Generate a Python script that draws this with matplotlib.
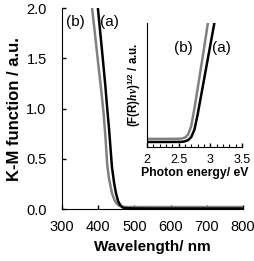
import matplotlib
matplotlib.use("Agg")
import matplotlib.pyplot as plt
from matplotlib.ticker import MultipleLocator

plt.rcParams['font.family'] = ['Liberation Sans', 'DejaVu Sans']
plt.rcParams['mathtext.fontset'] = 'custom'
plt.rcParams['mathtext.it'] = 'Liberation Serif:italic:bold'
plt.rcParams['mathtext.rm'] = 'Liberation Sans:bold'

# Main panel data (K-M function vs wavelength)
wl_b = [370, 380, 390, 400, 410, 415, 420, 425, 430, 438, 445, 450, 455, 460, 470, 480, 500, 550, 600, 700, 800]
km_b = [2.45, 2.1, 1.78, 1.45, 1.13, 0.95, 0.72, 0.44, 0.30, 0.16, 0.09, 0.06, 0.04, 0.03, 0.022, 0.02, 0.02, 0.02, 0.02, 0.02, 0.02]
wl_a = [385, 390, 400, 410, 420, 424, 430, 438, 444, 449, 455, 460, 466, 470, 480, 500, 550, 600, 700, 800]
km_a = [2.6, 2.38, 1.97, 1.6, 1.22, 1.04, 0.8, 0.42, 0.26, 0.16, 0.08, 0.045, 0.02, 0.012, 0.008, 0.006, 0.005, 0.005, 0.005, 0.005]

# Inset data (Tauc plot)
en_b = [2.0, 2.3, 2.5, 2.55, 2.6, 2.65, 2.7, 2.75, 2.8, 2.85, 2.9, 2.95, 3.0]
tauc_b = [0.065, 0.065, 0.066, 0.068, 0.075, 0.10, 0.17, 0.31, 0.47, 0.63, 0.79, 0.96, 1.12]
en_a = [2.0, 2.3, 2.55, 2.6, 2.65, 2.7, 2.75, 2.8, 2.85, 2.9, 2.95, 3.0, 3.05, 3.1]
tauc_a = [0.04, 0.04, 0.041, 0.045, 0.055, 0.08, 0.14, 0.26, 0.40, 0.54, 0.68, 0.82, 0.96, 1.1]

x_ticks = [300, 400, 500, 600, 700, 800]
y_ticks = [0.0, 0.5, 1.0, 1.5, 2.0]
inset_ticks = [2, 2.5, 3, 3.5]
inset_labels = ['2', '2.5', '3', '3.5']

fig = plt.figure(figsize=(2.55, 2.61), dpi=100)
ax = fig.add_axes([0.243, 0.199, 0.71, 0.770])
ax.plot(wl_b, km_b, color='#808080', lw=1.8, solid_capstyle='butt')
ax.plot(wl_a, km_a, color='black', lw=1.8, solid_capstyle='butt')
ax.set_xlim(300, 800)
ax.set_ylim(0, 2.0)
ax.set_xticks(x_ticks)
ax.set_yticks(y_ticks)
ax.set_yticklabels([f'{v:.1f}' for v in y_ticks])
ax.spines['top'].set_visible(False)
ax.spines['right'].set_visible(False)
ax.tick_params(direction='in', length=3, width=1, labelsize=10.5)
ax.tick_params(axis='x', pad=8)
ax.tick_params(axis='y', pad=11)
ax.set_xlabel('Wavelength/ nm', fontsize=11, fontweight='bold', labelpad=4)
ax.set_ylabel('K-M function / a.u.', fontsize=12, fontweight='bold', labelpad=3)
ax.text(336, 1.86, '(b)', fontsize=11, ha='center', va='center')
ax.text(431, 1.86, '(a)', fontsize=11, ha='center', va='center')

ins = fig.add_axes([0.576, 0.437, 0.373, 0.475])
ins.plot(en_b, tauc_b, color='#808080', lw=1.8)
ins.plot(en_a, tauc_a, color='black', lw=1.8)
ins.set_xlim(2, 3.5)
ins.set_ylim(0, 1.0)
ins.set_xticks(inset_ticks)
ins.set_xticklabels(inset_labels)
ins.xaxis.set_minor_locator(MultipleLocator(0.1))
ins.set_yticks([])
ins.patch.set_alpha(0)
ins.spines['top'].set_visible(False)
ins.spines['right'].set_visible(False)
ins.tick_params(axis='x', which='major', direction='in', length=3, width=1, labelsize=9, pad=5)
ins.tick_params(axis='x', which='minor', direction='in', length=2, width=0.8)
ins.set_xlabel('Photon energy/ eV', fontsize=8.8, fontweight='bold', labelpad=1)
ins.set_ylabel(r'(F(R)$h\nu$)$^{1/2}$ / a.u.', fontsize=8.3, fontweight='bold', labelpad=3)
ins.text(2.58, 0.8, '(b)', fontsize=11, ha='center', va='center')
ins.text(3.18, 0.8, '(a)', fontsize=11, ha='center', va='center')

fig.savefig('out.png', dpi=100)
